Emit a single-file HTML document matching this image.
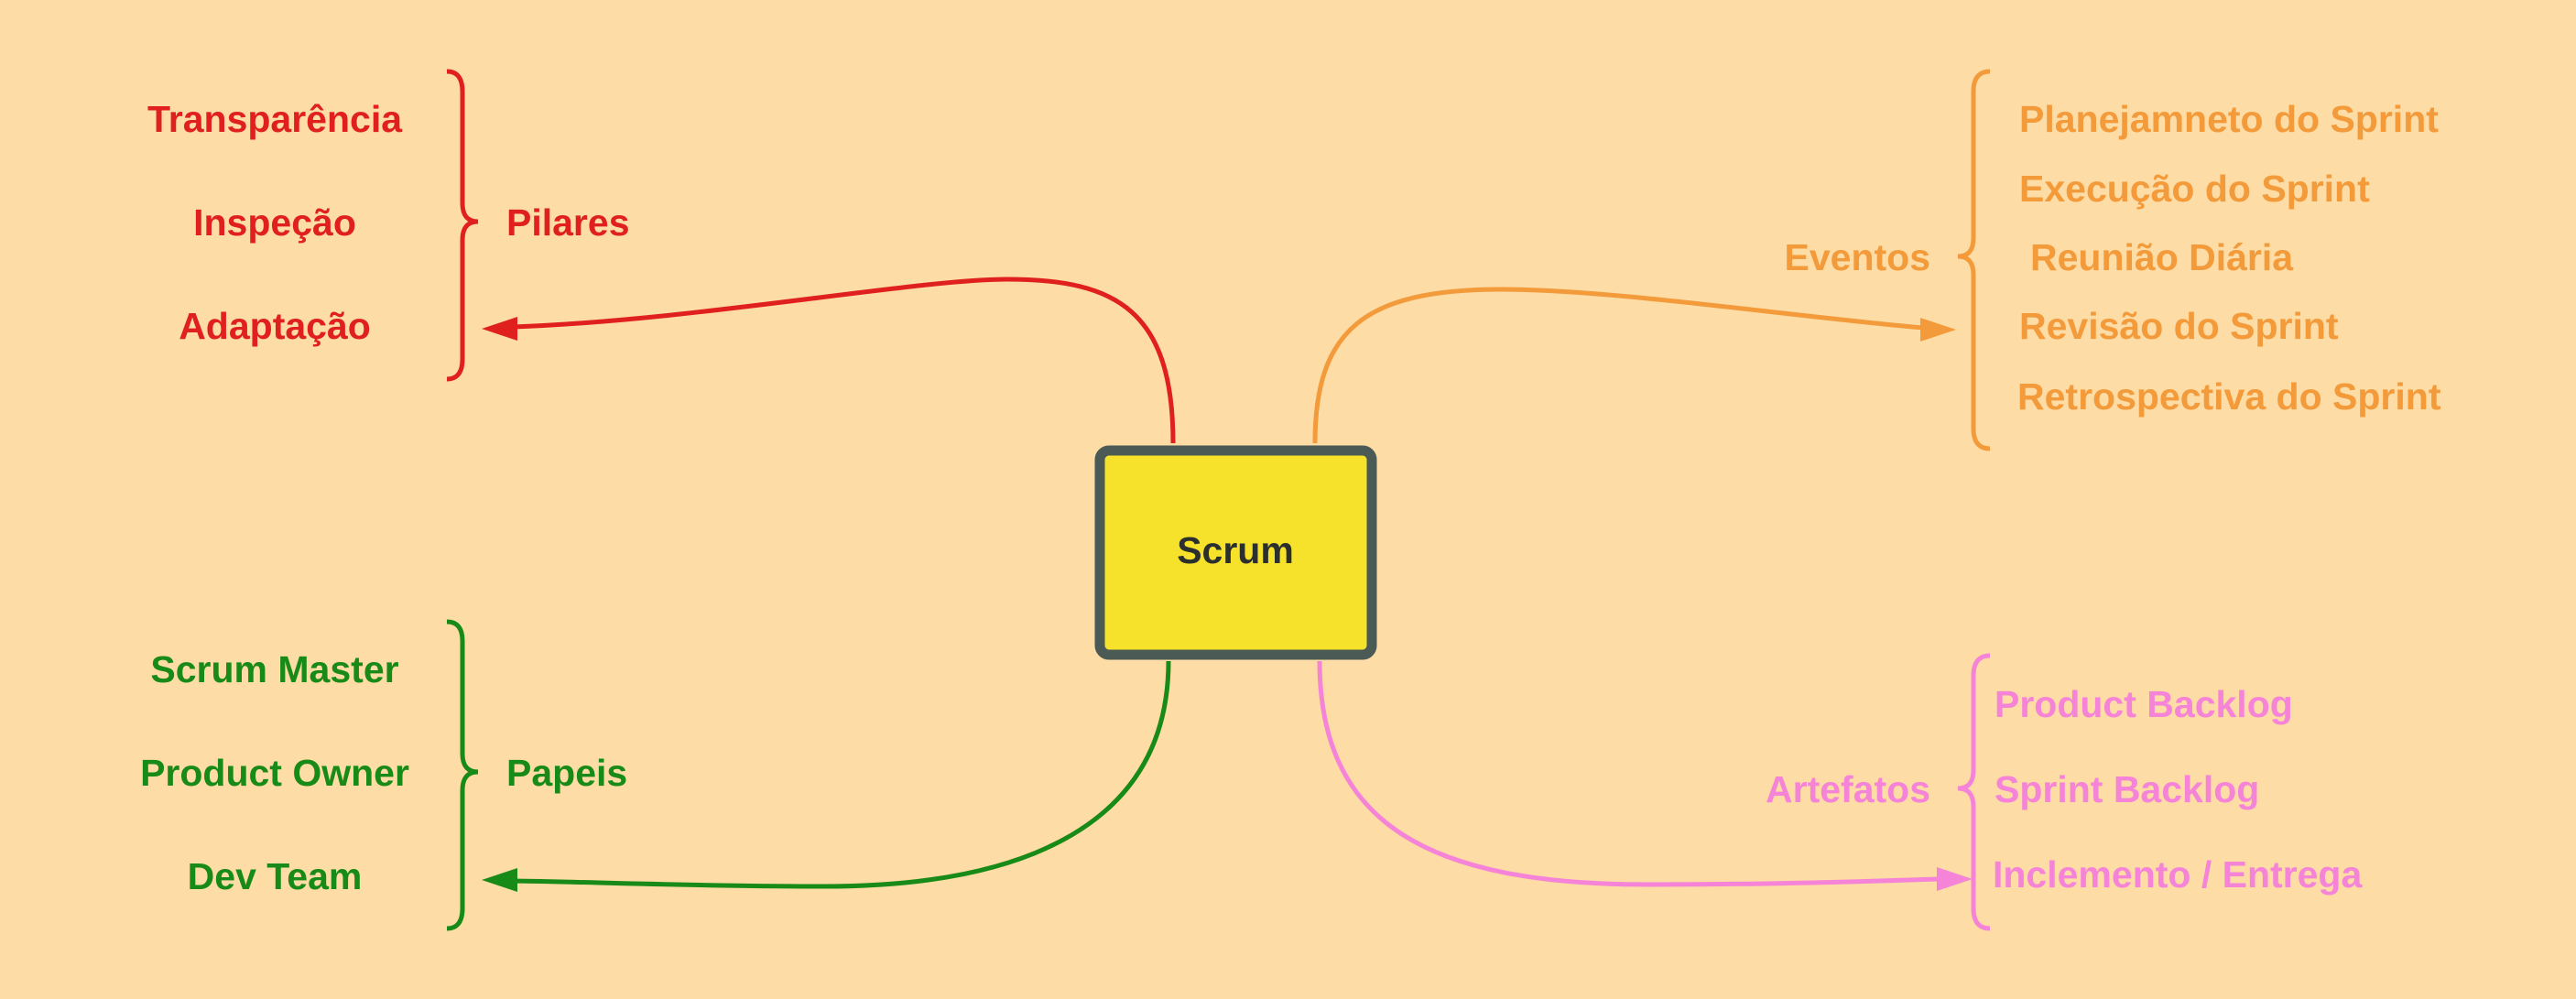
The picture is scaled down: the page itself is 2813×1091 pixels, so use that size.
<!DOCTYPE html>
<html><head><meta charset="utf-8"><style>
html,body{margin:0;padding:0;background:#fddca5;}
svg{display:block;}
text{font-family:"Liberation Sans",sans-serif;font-weight:bold;font-size:41px;dominant-baseline:central;}
</style></head><body>
<svg width="2813" height="1091" viewBox="0 0 2813 1091">
<rect width="2813" height="1091" fill="#fddca5"/>
<rect x="1201" y="492" width="297" height="223" rx="10" fill="#f7e22b" stroke="#4b5a55" stroke-width="11"/>
<text x="1349" y="601" text-anchor="middle" fill="#2b2f2e" font-size="41">Scrum</text>

<g fill="#e0201c" stroke="none">
<text x="300" y="130" text-anchor="middle">Transparência</text>
<text x="300" y="243" text-anchor="middle">Inspeção</text>
<text x="300" y="356" text-anchor="middle">Adaptação</text>
<text x="553" y="243">Pilares</text>
</g>
<path d="M488,78 Q505,78 505,100 L505,222 Q505,242 522,242 Q505,242 505,262 L505,392 Q505,414 488,414" fill="none" stroke="#e0201c" stroke-width="5"/>
<path d="M1281,484 C1281,340 1220,305 1100,305 C1000,305 760,350 560,357" fill="none" stroke="#e0201c" stroke-width="5"/>
<polygon points="526,359 565,346 565,372" fill="#e0201c"/>

<g fill="#188a17">
<text x="300" y="731" text-anchor="middle">Scrum Master</text>
<text x="300" y="844" text-anchor="middle">Product Owner</text>
<text x="300" y="957" text-anchor="middle">Dev Team</text>
<text x="553" y="844">Papeis</text>
</g>
<path d="M488,679 Q505,679 505,700 L505,823 Q505,843 522,843 Q505,843 505,863 L505,992 Q505,1014 488,1014" fill="none" stroke="#188a17" stroke-width="5"/>
<path d="M1276,722 C1276,900 1120,968 900,968 C760,968 640,963 560,962" fill="none" stroke="#188a17" stroke-width="5"/>
<polygon points="526,961 565,948 565,974" fill="#188a17"/>

<g fill="#f39a3b">
<text x="2108" y="281" text-anchor="end">Eventos</text>
<text x="2205" y="130">Planejamneto do Sprint</text>
<text x="2205" y="206">Execução do Sprint</text>
<text x="2217" y="281">Reunião Diária</text>
<text x="2205" y="356">Revisão do Sprint</text>
<text x="2203" y="433">Retrospectiva do Sprint</text>
</g>
<path d="M2173,78 Q2155,78 2155,100 L2155,260 Q2155,280 2138,280 Q2155,280 2155,300 L2155,468 Q2155,490 2173,490" fill="none" stroke="#f39a3b" stroke-width="5"/>
<path d="M1436,484 C1436,360 1490,316 1640,316 C1760,316 1950,345 2100,358" fill="none" stroke="#f39a3b" stroke-width="5"/>
<polygon points="2136,360 2097,347 2097,373" fill="#f39a3b"/>

<g fill="#f584d8">
<text x="2108" y="862" text-anchor="end">Artefatos</text>
<text x="2178" y="769">Product Backlog</text>
<text x="2178" y="862">Sprint Backlog</text>
<text x="2176" y="955">Inclemento / Entrega</text>
</g>
<path d="M2173,716 Q2155,716 2155,738 L2155,841 Q2155,861 2138,861 Q2155,861 2155,881 L2155,992 Q2155,1014 2173,1014" fill="none" stroke="#f584d8" stroke-width="5"/>
<path d="M1441,722 C1441,900 1560,966 1800,966 C1950,966 2050,962 2118,960" fill="none" stroke="#f584d8" stroke-width="5"/>
<polygon points="2154,960 2115,947 2115,973" fill="#f584d8"/>
</svg>
</body></html>
